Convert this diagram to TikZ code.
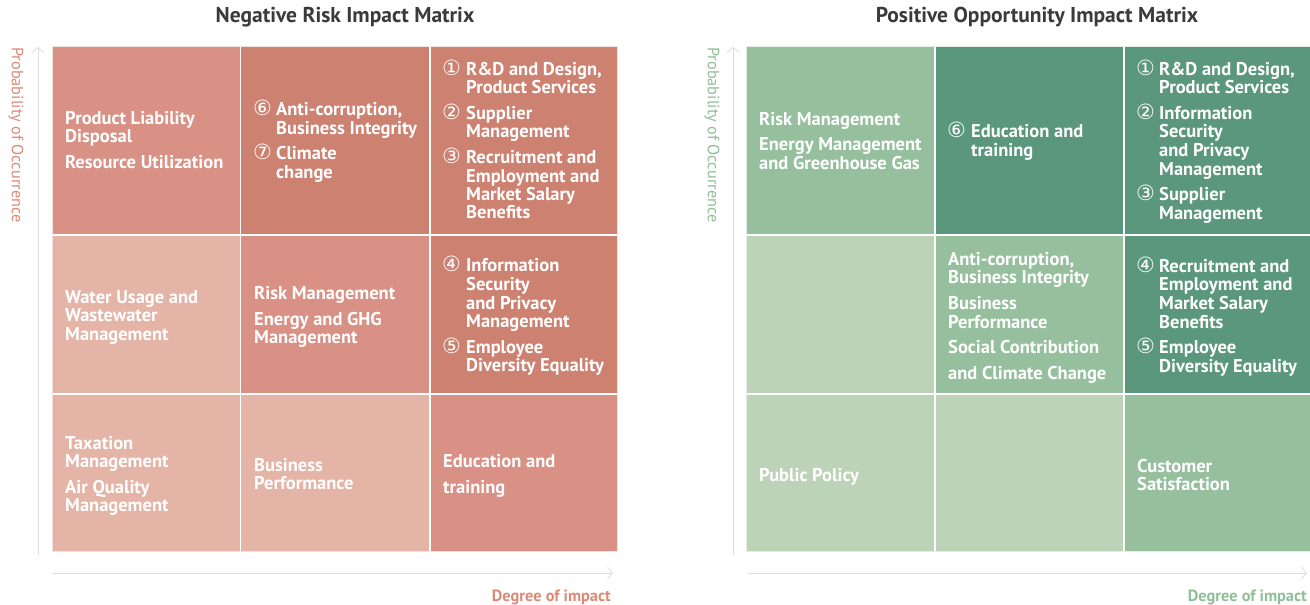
\documentclass[tikz,border=0pt]{standalone}
\usepackage{fontspec}
\setmainfont{PT Sans}
\newfontfamily\circf{DejaVu Sans}
\usetikzlibrary{arrows.meta}
\definecolor{redD}{HTML}{CD8170}
\definecolor{redM}{HTML}{D89184}
\definecolor{redL}{HTML}{E4B4A7}
\definecolor{grnD}{HTML}{5A977C}
\definecolor{grnM}{HTML}{96BF9E}
\definecolor{grnL}{HTML}{BCD3B8}
\definecolor{redtxt}{HTML}{DC8A76}
\definecolor{grntxt}{HTML}{8FBF99}
\definecolor{titlec}{HTML}{3A3A3A}
\definecolor{axisc}{HTML}{DDDDDD}
\definecolor{rimR}{HTML}{F3E3DF}
\definecolor{rimG}{HTML}{E4EEE4}
\newcommand{\tln}[4]{\node[txt] (#1) at (#2,-#3) {#4};}
\newcommand{\cnum}[4]{\node[num] (#1) at (#2,-#3) {#4};}
\begin{document}
\begin{tikzpicture}[x=1pt,y=1pt,
  txt/.style={anchor=west, inner sep=0pt, yshift=-1.5pt, text=white, font=\fontsize{18.5}{20}\selectfont\bfseries, text height=12pt, text depth=3.5pt},
  num/.style={anchor=west, inner sep=0pt, yshift=-1.5pt, text=white, font=\circf\fontsize{21}{22}\selectfont, text height=12pt, text depth=3.5pt},
  ttl/.style={inner sep=0pt, text=titlec, font=\fontsize{21.5}{24}\selectfont\bfseries},
  axislab/.style={inner sep=0pt, font=\fontsize{16.3}{18}\selectfont},
  axisline/.style={draw=axisc, line width=1pt, -{Straight Barb[length=5pt,width=12pt,line width=0.8pt]}}
]
\useasboundingbox (0,0) rectangle (1310,-605);
\fill[white] (0,0) rectangle (1310,-605);

% titles
\node[ttl] (t1) at (345,-17) {Negative Risk Impact Matrix};
\node[ttl] (t2) at (1037,-17) {Positive Opportunity Impact Matrix};

% faint outer rims
\draw[rimR, line width=1.2pt] (52.5,-46.5) rectangle (617.5,-551.5);
\draw[rimG, line width=1.2pt] (746.5,-46.5) rectangle (1311,-551.5);

% left matrix cells
\fill[redM] (53,-47) rectangle (240,-234);
\fill[redD] (241,-47) rectangle (429,-234);
\fill[redD] (431,-47) rectangle (617,-234);
\fill[redL] (53,-236) rectangle (240,-393);
\fill[redM] (241,-236) rectangle (429,-393);
\fill[redD] (431,-236) rectangle (617,-393);
\fill[redL] (53,-395) rectangle (240,-551);
\fill[redL] (241,-395) rectangle (429,-551);
\fill[redM] (431,-395) rectangle (617,-551);

% right matrix cells
\fill[grnM] (747,-47) rectangle (934,-234);
\fill[grnD] (936,-47) rectangle (1123,-234);
\fill[grnD] (1125,-47) rectangle (1310,-234);
\fill[grnL] (747,-236) rectangle (934,-393);
\fill[grnM] (936,-236) rectangle (1123,-393);
\fill[grnD] (1125,-236) rectangle (1310,-393);
\fill[grnL] (747,-395) rectangle (934,-551);
\fill[grnL] (936,-395) rectangle (1123,-551);
\fill[grnM] (1125,-395) rectangle (1310,-551);

% axes
\coordinate (ly0) at (38,-555); \coordinate (ly1) at (38,-47);
\coordinate (lx0) at (53,-573); \coordinate (lx1) at (613,-573);
\coordinate (ry0) at (733,-555); \coordinate (ry1) at (733,-47);
\coordinate (rx0) at (748,-573); \coordinate (rx1) at (1307,-573);
\draw[axisline] (ly0) -- (ly1);
\draw[axisline] (lx0) -- (lx1);
\draw[axisline] (ry0) -- (ry1);
\draw[axisline] (rx0) -- (rx1);
\node[axislab, text=redtxt, rotate=-90, anchor=west] (lyl) at (16,-47) {Probability of Occurrence};
\node[axislab, text=grntxt, rotate=-90, anchor=west] (ryl) at (712,-47) {Probability of Occurrence};
\node[axislab, text=redtxt, anchor=east, font=\fontsize{16.3}{18}\selectfont\bfseries] (lxl) at (611,-597) {Degree of impact};
\node[axislab, text=grntxt, anchor=east, font=\fontsize{16.3}{18}\selectfont\bfseries] (rxl) at (1307,-597) {Degree of impact};

% ---- left matrix texts
\tln{a1a}{65}{119}{Product Liability}
\tln{a1b}{65}{137}{Disposal}
\tln{a1c}{65}{163}{Resource Utilization}

\cnum{a2n6}{253}{110}{⑥}
\tln{a2a}{276}{110}{Anti-corruption,}
\tln{a2b}{276}{129}{Business Integrity}
\cnum{a2n7}{253}{154}{⑦}
\tln{a2c}{276}{154}{Climate}
\tln{a2d}{276}{173}{change}

\cnum{a3n1}{442}{70}{①}
\tln{a3a}{466}{70}{R\&D and Design,}
\tln{a3b}{466}{88}{Product Services}
\cnum{a3n2}{442}{114}{②}
\tln{a3c}{466}{114}{Supplier}
\tln{a3d}{466}{132}{Management}
\cnum{a3n3}{442}{158}{③}
\tln{a3e}{466}{158}{Recruitment and}
\tln{a3f}{466}{177}{Employment and}
\tln{a3g}{466}{195}{Market Salary}
\tln{a3h}{466}{213}{Benefits}

\tln{b1a}{65}{298}{Water Usage and}
\tln{b1b}{65}{316}{Wastewater}
\tln{b1c}{65}{335}{Management}

\tln{b2a}{254}{294}{Risk Management}
\tln{b2b}{254}{320}{Energy and GHG}
\tln{b2c}{254}{338}{Management}

\cnum{b3n4}{442}{266}{④}
\tln{b3a}{466}{266}{Information}
\tln{b3b}{466}{285}{Security}
\tln{b3c}{466}{304}{and Privacy}
\tln{b3d}{466}{322}{Management}
\cnum{b3n5}{442}{348}{⑤}
\tln{b3e}{466}{348}{Employee}
\tln{b3f}{466}{366}{Diversity Equality}

\tln{c1a}{65}{444}{Taxation}
\tln{c1b}{65}{462}{Management}
\tln{c1c}{65}{488}{Air Quality}
\tln{c1d}{65}{506}{Management}

\tln{c2a}{254}{466}{Business}
\tln{c2b}{254}{484}{Performance}

\tln{c3a}{443}{462}{Education and}
\tln{c3b}{443}{488}{training}

% ---- right matrix texts
\tln{d1a}{759}{120}{Risk Management}
\tln{d1b}{759}{145}{Energy Management}
\tln{d1c}{759}{164}{and Greenhouse Gas}

\cnum{d2n6}{947}{132}{⑥}
\tln{d2a}{971}{132}{Education and}
\tln{d2b}{971}{151}{training}

\cnum{d3n1}{1136}{70}{①}
\tln{d3a}{1159}{70}{R\&D and Design,}
\tln{d3b}{1159}{88}{Product Services}
\cnum{d3n2}{1136}{114}{②}
\tln{d3c}{1159}{114}{Information}
\tln{d3d}{1159}{132}{Security}
\tln{d3e}{1159}{151}{and Privacy}
\tln{d3f}{1159}{170}{Management}
\cnum{d3n3}{1136}{195}{③}
\tln{d3g}{1159}{195}{Supplier}
\tln{d3h}{1159}{214}{Management}

\tln{e2a}{948}{260}{Anti-corruption,}
\tln{e2b}{948}{278}{Business Integrity}
\tln{e2c}{948}{304}{Business}
\tln{e2d}{948}{323}{Performance}
\tln{e2e}{948}{348}{Social Contribution}
\tln{e2f}{948}{374}{and Climate Change}

\cnum{e3n4}{1136}{267}{④}
\tln{e3a}{1159}{267}{Recruitment and}
\tln{e3b}{1159}{285}{Employment and}
\tln{e3c}{1159}{304}{Market Salary}
\tln{e3d}{1159}{323}{Benefits}
\cnum{e3n5}{1136}{348}{⑤}
\tln{e3e}{1159}{348}{Employee}
\tln{e3f}{1159}{367}{Diversity Equality}

\tln{f1a}{759}{476}{Public Policy}
\tln{f3a}{1137}{467}{Customer}
\tln{f3b}{1137}{485}{Satisfaction}
\end{tikzpicture}
\end{document}
